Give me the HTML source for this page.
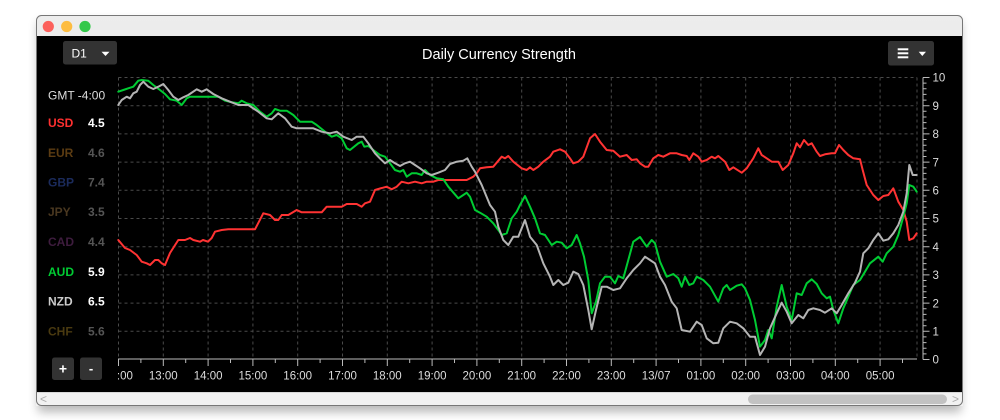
<!DOCTYPE html>
<html><head><meta charset="utf-8"><style>
html,body{margin:0;padding:0;background:#fff;width:1000px;height:420px;overflow:hidden}
svg{display:block}
text{font-family:"Liberation Sans",Arial,sans-serif}
</style></head><body>
<svg width="1000" height="420" viewBox="0 0 1000 420" xmlns="http://www.w3.org/2000/svg">
<defs>
<linearGradient id="tb" x1="0" y1="0" x2="0" y2="1"><stop offset="0" stop-color="#ededed"/><stop offset="1" stop-color="#d4d4d4"/></linearGradient>
<filter id="sh" x="-5%" y="-5%" width="110%" height="120%"><feGaussianBlur stdDeviation="5"/></filter>
<clipPath id="xc"><rect x="118" y="360" width="810" height="30"/></clipPath>
</defs>
<!-- shadow -->
<rect x="38" y="22" width="923" height="390" fill="#000" opacity="0.28" filter="url(#sh)"/>
<!-- window -->
<rect x="36" y="15" width="927" height="391" rx="5" fill="url(#tb)"/>
<rect x="36" y="36" width="927" height="356" fill="#000"/>
<rect x="36" y="392" width="927" height="14" fill="#f1f1f1"/>
<line x1="36" y1="392.5" x2="963" y2="392.5" stroke="#d8d8d8"/>
<rect x="36.5" y="15.5" width="926" height="390" rx="5" fill="none" stroke="#777" stroke-width="1"/>
<circle cx="48.3" cy="26.5" r="5.6" fill="#fc605b"/>
<circle cx="66.7" cy="26.5" r="5.6" fill="#fdbc40"/>
<circle cx="85" cy="26.5" r="5.6" fill="#34c84a"/>
<!-- scrollbar -->
<rect x="748" y="394.5" width="199" height="9.5" rx="4.7" fill="#c2c2c2"/>
<text x="40" y="403" font-size="12" fill="#aaa">&lt;</text>
<text x="952" y="403" font-size="12" fill="#aaa">&gt;</text>
<!-- title -->
<text x="499" y="59" font-size="14.5" fill="#fff" text-anchor="middle">Daily Currency Strength</text>
<!-- D1 button -->
<rect x="63" y="41" width="54" height="23.5" rx="2.5" fill="#333"/>
<text x="71.5" y="57.5" font-size="12" fill="#fff">D1</text>
<polygon points="101.5,51.7 109.5,51.7 105.5,56" fill="#fff"/>
<!-- menu button -->
<rect x="888" y="41" width="46" height="24.5" rx="2.5" fill="#333"/>
<rect x="897.7" y="48.3" width="10.6" height="2" fill="#fff"/>
<rect x="897.7" y="52.3" width="10.6" height="2" fill="#fff"/>
<rect x="897.7" y="56.3" width="10.6" height="2" fill="#fff"/>
<polygon points="918.7,51.7 926,51.7 922.3,56" fill="#fff"/>
<!-- legend -->
<g font-size="12">
<text x="48" y="99.3" fill="#ddd">GMT -4:00</text>
<g font-weight="bold">
<text x="48" y="127" fill="#ff3030">USD</text><text x="88" y="127" fill="#fff">4.5</text>
<text x="48" y="157" fill="#5c3c12">EUR</text><text x="88" y="157" fill="#555">4.6</text>
<text x="48" y="186.5" fill="#1b2b5c">GBP</text><text x="88" y="186.5" fill="#555">7.4</text>
<text x="48" y="216" fill="#4a3820">JPY</text><text x="88" y="216" fill="#555">3.5</text>
<text x="48" y="246" fill="#3e1c3e">CAD</text><text x="88" y="246" fill="#555">4.4</text>
<text x="48" y="276" fill="#00cc33">AUD</text><text x="88" y="276" fill="#fff">5.9</text>
<text x="48" y="305.3" fill="#ccc">NZD</text><text x="88" y="305.3" fill="#fff">6.5</text>
<text x="48" y="335.3" fill="#4a3a10">CHF</text><text x="88" y="335.3" fill="#555">5.6</text>
</g></g>
<!-- +/- buttons -->
<rect x="52" y="357.5" width="22" height="22.5" rx="2.5" fill="#333"/>
<rect x="80" y="357.5" width="22" height="22.5" rx="2.5" fill="#333"/>
<text x="63" y="373.5" font-size="14" font-weight="bold" fill="#fff" text-anchor="middle">+</text>
<text x="91" y="373" font-size="13" font-weight="bold" fill="#fff" text-anchor="middle">-</text>
<!-- grid -->
<g stroke="#4a4a4a" stroke-width="1" stroke-dasharray="3,3" fill="none">
<path d="M118.5 77.5H917M118.5 105.7H917M118.5 133.9H917M118.5 162.1H917M118.5 190.3H917M118.5 218.5H917M118.5 246.7H917M118.5 274.9H917M118.5 303.1H917M118.5 331.3H917"/>
<path d="M118.5 77.5V359M163.3 77.5V359M208.1 77.5V359M252.9 77.5V359M297.7 77.5V359M342.5 77.5V359M387.3 77.5V359M432.1 77.5V359M476.9 77.5V359M521.7 77.5V359M566.5 77.5V359M611.3 77.5V359M656.1 77.5V359M700.9 77.5V359M745.7 77.5V359M790.5 77.5V359M835.3 77.5V359M880.1 77.5V359M917 77.5V359"/>
</g>
<!-- x axis -->
<g stroke="#bbb" stroke-width="1">
<line x1="118" y1="359" x2="917" y2="359"/>
<path d="M118.5 359V366M163.3 359V366M208.1 359V366M252.9 359V366M297.7 359V366M342.5 359V366M387.3 359V366M432.1 359V366M476.9 359V366M521.7 359V366M566.5 359V366M611.3 359V366M656.1 359V366M700.9 359V366M745.7 359V366M790.5 359V366M835.3 359V366M880.1 359V366"/>
<path d="M140.9 359V363M185.7 359V363M230.5 359V363M275.3 359V363M320.1 359V363M364.9 359V363M409.7 359V363M454.5 359V363M499.3 359V363M544.1 359V363M588.9 359V363M633.7 359V363M678.5 359V363M723.3 359V363M768.1 359V363M812.9 359V363M857.7 359V363M902.5 359V363"/>
</g>
<g font-size="11.5" fill="#ddd" text-anchor="middle" clip-path="url(#xc)">
<text x="118.5" y="379.5">12:00</text><text x="163.3" y="379.5">13:00</text><text x="208.1" y="379.5">14:00</text><text x="252.9" y="379.5">15:00</text><text x="297.7" y="379.5">16:00</text><text x="342.5" y="379.5">17:00</text><text x="387.3" y="379.5">18:00</text><text x="432.1" y="379.5">19:00</text><text x="476.9" y="379.5">20:00</text><text x="521.7" y="379.5">21:00</text><text x="566.5" y="379.5">22:00</text><text x="611.3" y="379.5">23:00</text><text x="656.1" y="379.5">13/07</text><text x="700.9" y="379.5">01:00</text><text x="745.7" y="379.5">02:00</text><text x="790.5" y="379.5">03:00</text><text x="835.3" y="379.5">04:00</text><text x="880.1" y="379.5">05:00</text>
</g>
<!-- right axis -->
<g stroke="#bbb" stroke-width="1">
<line x1="923" y1="77.5" x2="923" y2="359.5"/>
<path d="M923 77.5h6.5M923 105.7h6.5M923 133.9h6.5M923 162.1h6.5M923 190.3h6.5M923 218.5h6.5M923 246.7h6.5M923 274.9h6.5M923 303.1h6.5M923 331.3h6.5M923 359.5h6.5"/>
<path d="M923 83.1h3.5M923 88.8h3.5M923 94.4h3.5M923 100.1h3.5M923 111.3h3.5M923 117h3.5M923 122.6h3.5M923 128.3h3.5M923 139.5h3.5M923 145.2h3.5M923 150.8h3.5M923 156.5h3.5M923 167.7h3.5M923 173.4h3.5M923 179h3.5M923 184.7h3.5M923 195.9h3.5M923 201.6h3.5M923 207.2h3.5M923 212.9h3.5M923 224.1h3.5M923 229.8h3.5M923 235.4h3.5M923 241.1h3.5M923 252.3h3.5M923 258h3.5M923 263.6h3.5M923 269.3h3.5M923 280.5h3.5M923 286.2h3.5M923 291.8h3.5M923 297.5h3.5M923 308.7h3.5M923 314.4h3.5M923 320h3.5M923 325.7h3.5M923 336.9h3.5M923 342.6h3.5M923 348.2h3.5M923 353.9h3.5"/>
</g>
<g font-size="11.5" fill="#ddd">
<text x="932.5" y="81.7">10</text><text x="932.5" y="109.9">9</text><text x="932.5" y="138.1">8</text><text x="932.5" y="166.3">7</text><text x="932.5" y="194.5">6</text><text x="932.5" y="222.7">5</text><text x="932.5" y="250.9">4</text><text x="932.5" y="279.1">3</text><text x="932.5" y="307.3">2</text><text x="932.5" y="335.5">1</text><text x="932.5" y="363.7">0</text>
</g>
<!-- series -->
<g fill="none" stroke-width="2" stroke-linejoin="round" stroke-linecap="round">
<polyline stroke="#ff3333" points="118.3,240 125,248 130,250 136.7,255 141.7,261.7 146.7,263.3 150,265 155,260 158.3,260 161.7,263.3 165,265 170,253 178.3,240 185,240 190,238 193.3,240 200,241.7 203,240 208,241.7 211.7,238 215,231.7 221.7,230 228.3,229.3 255,229.3 263.3,213.3 270,215 275,220 278.3,220 281.7,215 288.3,215 296.7,210 301.7,212.3 321.7,212.3 326.7,206.7 341.7,206.7 346.7,204 356.7,204 361.7,206.7 365,203.3 370,201.7 375,190 380,188.5 386.7,186.7 391.7,189.3 396.7,186.7 401.7,181.7 408.3,183.3 415,181.7 421.7,183.3 426.7,181.7 433.3,181.7 438.3,180 466.7,180 473.3,176.7 476.7,173.3 480,168.3 486.7,167.3 493.3,166.7 501.7,156.7 505,158.3 508.3,156 513.3,161.7 521.7,168.3 526.7,170 530,167.3 533.3,170 538.3,166.7 543.3,161.7 550,156.7 553.3,151.7 560,149.3 565,151.7 570,158.3 573.3,163.3 578.3,161.7 583.3,156.7 590,138.3 595,134 600,141.7 606.7,150 613.3,150.7 620,156.7 626.7,155 631.7,160 636.7,159.3 640,163.3 645,166.7 648.3,166.7 653.3,158.3 658.3,155 663.3,156.7 670,153.3 676.7,153.3 681.7,155 686.7,156 689.3,160 693.3,153.3 698.3,156.7 701.7,161.7 706.7,160 711.7,156.7 715,158.3 718.3,156 725,161.7 729.3,170 733.3,167.3 741.7,172.7 746.7,168.3 753.3,158.3 758.3,148.3 761.7,155 766.7,158.3 771.7,161.7 778.3,161.7 782.7,170 788.3,165 793.3,153.3 796.7,143.3 800,147.3 804,140 808.3,145 811.7,143.3 816.7,151.7 820,156 825,154.3 831.7,153.3 835,153.3 839,145 843.3,150 848.3,155 853.3,158.3 860,159.3 862.7,170 866.7,185 873.3,195 878.3,200 883.3,196 888.3,195 893.3,188.3 898.3,201.7 903.3,210 906.7,221.7 909.3,240 913.3,238.3 916.7,233.3"/>
<polyline stroke="#00cc33" points="118.3,91.7 123.3,90 128.3,88.3 133.3,86.7 138.3,80.7 141.7,80 148.3,80.7 153.3,85 160,90 165,94 170,99.3 176.7,100.7 181.7,105 186.7,98.3 190,96.7 218.3,96.7 225,100.7 231.7,102.3 238.3,103.3 241.7,100.7 246.7,103.3 253.3,105 260,111.7 266.7,116.7 271.7,113.3 275,109 280,110.7 286.7,110.7 293.3,115 300,121.7 311.7,121.7 316.7,125 325,131.7 331.7,136.7 336.7,135 341.7,138.3 346.7,148.3 350,150 358.3,143.3 361.7,141.7 364.3,146.7 368.3,146 373.3,150 380,155 385,156.7 390,163.3 395,170 400,171.7 403.3,170 406.7,176.7 411.7,173.3 416.7,173.3 421.7,175 425,170 430,175 436.7,178.3 443.3,179.3 448.3,186.7 458.3,198.3 463.3,195 466.7,192.7 470,196.7 475,210 480,212.7 486.7,216.7 493.3,223.3 498.3,230 501.7,235 506.7,233.3 511.7,218.3 516.7,211.7 520,205 525,196 530,206.7 535,218.3 540,233.3 545,235 551.7,245 556.7,241.7 561.7,242.7 566.7,248.3 571.7,245 576.7,235 580,243.3 584,256.7 588.3,280 591.7,313.3 596,301.7 600,283.3 605,276.7 610,276.7 615,283.3 618.3,276 623.3,278.3 628.3,260 633.3,241.7 640,237 646.7,246.7 651.7,240 655,243.3 660,261.7 666.7,276.7 673.3,274 678.3,278.3 681.7,286.7 685,276.7 689.3,285 693.3,283.3 696.7,276.7 703.3,280 710,286.7 718.3,301.7 723.3,288.3 726.7,285 730,290 736.7,285.7 741.7,284.3 745,288.3 750,300 755,320 760,346.7 765,340 768.3,330 771.7,338.3 776.7,306.7 781.7,285 786.7,306.7 791.7,320 796.7,293.3 801.7,295 806.7,283.3 811.7,279.3 816.7,284 821.7,293.3 826.7,298.3 830,296.7 833.3,310 838.3,323.3 843.3,308.3 848.3,296.7 853.3,285 860,280 865,271.7 870,263.3 878.3,256.7 882.7,261.7 886.7,253.3 893.3,246.7 898.3,235 903.3,216.7 906.7,203.3 909.3,185 913.3,186.7 916.7,191.7"/>
<polyline stroke="#b4b4b4" points="118.3,105 121.7,100 126.7,96.7 130,98.3 133.3,93.3 136.7,91.7 140,85 143.3,81.7 148.3,86.7 153.3,89 158.3,86.7 163.3,84 168.3,90 173.3,96.7 178.3,100 183.3,97.3 188.3,95 196.7,89.3 201.7,91.7 206.7,89.3 213.3,94 221.7,98.3 230,101.7 238.3,105 248.3,105 258.3,111.7 266.7,118.3 271.7,119.3 278.3,113.3 285,118.3 291.7,126.7 296.7,128.3 313.3,128.3 321.7,131.7 330,133.3 336.7,131.7 343.3,136.7 351.7,140 356.7,136.7 363.3,136.7 368.3,143.3 375,153.3 380,158.5 385,163.3 390,160 395,163.3 400,166 405,163.3 410,161.7 415,165 420,168.3 426.7,173.3 431.7,175 438.3,172.7 445,170 450,164 456.7,161.7 463.3,160.7 467.3,158.3 471.7,166.7 475,171.7 481.7,185 490,205 495,211.7 498.3,226.7 503.3,240 508.3,245 513.3,236.7 518.3,236.7 525,220 530,236.7 536.7,245 543.3,263.3 550,276.7 553.3,285 558.3,280 563.3,285 568.3,282.7 573.3,271.7 578.3,274 583.3,285 588.3,310 591.7,329.3 596,310 601.7,286.7 606.7,286.7 613.3,290 620,288.3 626.7,278.3 633.3,270 640,263.3 645,256.7 650,260 655,263.3 660,276.7 665,285 671.7,301.7 676.7,308.3 681.7,330 690,331.7 696.7,321.7 701.7,325 706.7,338.3 713.3,343.3 718.3,342.7 723.3,328.3 730,321.7 736.7,323.3 743.3,328.3 750,336.7 755,336.7 760,355 765,346.7 770,328.3 776.7,313.3 781.7,302.7 786.7,311.7 791.7,323.3 798.3,315 803.3,318.3 808.3,310 813.3,308.3 820,310 825,312.7 831.7,308.3 836.7,313.3 841.7,305 848.3,293.3 855,282.7 860,271.7 863.3,253.3 868.3,248.3 873.3,240 878.3,233.3 883.3,240.7 888.3,239.3 893.3,233.3 898.3,225 903.3,211.7 906.7,193.3 909.3,165 912.7,175 916.7,175"/>
</g>
</svg>
</body></html>
